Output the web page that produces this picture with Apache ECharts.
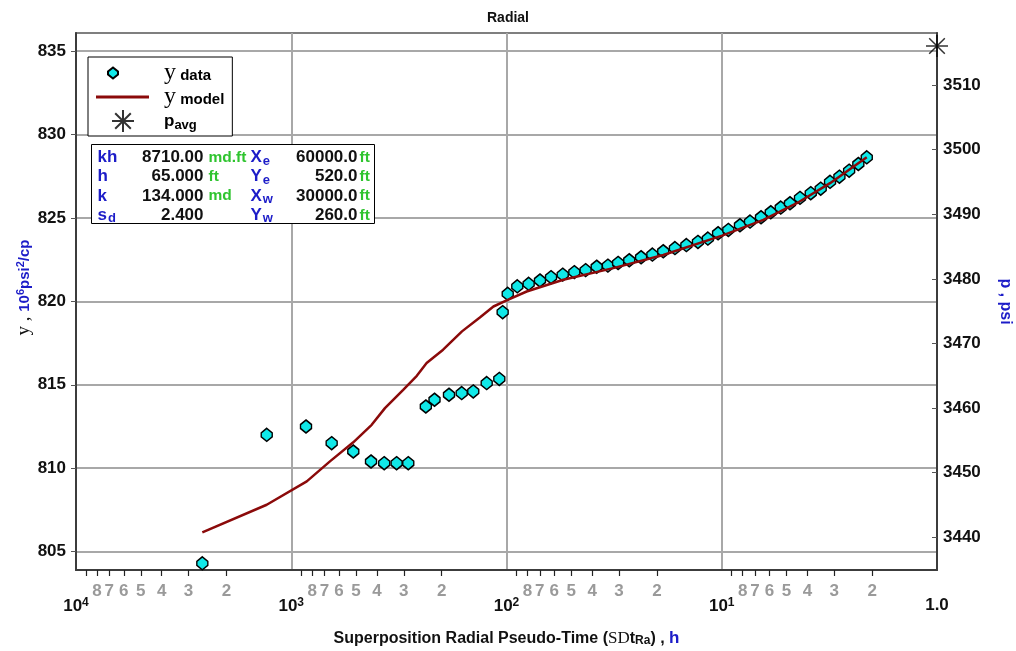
<!DOCTYPE html>
<html>
<head>
<meta charset="utf-8">
<title>Radial</title>
<script src="https://cdn.jsdelivr.net/npm/echarts@6/dist/echarts.min.js"></script>
<style>
  html, body { margin: 0; padding: 0; background: #fff; }
  #chart { width: 1016px; height: 651px; }
</style>
</head>
<body>
<div id="chart"></div>
<script>
// measured data: superposition radial pseudo-time (h) vs y (10^6 psi^2/cp)
const dataTime = [2589, 1300, 854, 649, 515, 426, 370, 324, 286, 237, 216, 185, 161.5, 142.7, 123.6, 108,
  104.2, 98.7, 89.1, 78.9, 69.9, 62.1, 54.8, 48.4, 42.9, 38.1, 33.8, 30.3, 26.9, 23.7, 21.0, 18.7, 16.5,
  14.6, 12.9, 11.6, 10.4, 9.32, 8.23, 7.39, 6.57, 5.92, 5.32, 4.82, 4.33, 3.86, 3.47, 3.14, 2.84, 2.56, 2.32, 2.12]
const dataY = [804.3, 812.0, 812.5, 811.5, 811.0, 810.4, 810.3, 810.3, 810.3, 813.7, 814.1, 814.4, 814.5, 814.6, 815.1, 815.35,
  819.35, 820.45, 820.9, 821.05, 821.25, 821.45, 821.6, 821.75, 821.87, 822.07, 822.14, 822.3, 822.46, 822.64, 822.8, 823.0, 823.19,
  823.37, 823.56, 823.76, 824.08, 824.28, 824.56, 824.78, 825.04, 825.34, 825.62, 825.88, 826.2, 826.48, 826.75, 827.16, 827.47, 827.83, 828.23, 828.63]

// model curve
const modelTime = [2589, 1300, 847, 661, 515, 423, 367, 302, 261, 235, 197, 161, 133, 115, 98.7, 80.6, 54.5, 31.9, 18.7, 9.97, 6.41, 4.48, 3.14, 2.12]
const modelY = [806.16, 807.81, 809.21, 810.41, 811.55, 812.6, 813.6, 814.7, 815.54, 816.3, 817.1, 818.2, 819.03, 819.69, 820.09, 820.59, 821.29, 821.99, 822.78, 823.94, 824.88, 825.88, 827.08, 828.63]

// average pressure marker
const pavgTime = [1.0]
const pavgY = [835.3]

// axis ticks
const minorTickValues = [9000, 8000, 7000, 6000, 5000, 4000, 3000, 2000, 900, 800, 700, 600, 500, 400, 300, 200,
  90, 80, 70, 60, 50, 40, 30, 20, 9, 8, 7, 6, 5, 4, 3, 2]
const minorLabelValues = [8000, 7000, 6000, 5000, 4000, 3000, 2000, 800, 700, 600, 500, 400, 300, 200,
  80, 70, 60, 50, 40, 30, 20, 8, 7, 6, 5, 4, 3, 2]
const leftTicks = [805, 810, 815, 820, 825, 830, 835]
const rightTicks = [3440, 3450, 3460, 3470, 3480, 3490, 3500, 3510]

// parameter box rows: label, sub, value, unit, label, sub, value, unit
const paramRows = [
  ['kh', '', '8710.00', 'md.ft', 'X', 'e', '60000.0', 'ft'],
  ['h', '', '65.000', 'ft', 'Y', 'e', '520.0', 'ft'],
  ['k', '', '134.000', 'md', 'X', 'w', '30000.0', 'ft'],
  ['s', 'd', '2.400', '', 'Y', 'w', '260.0', 'ft']
]

const SANS = 'Liberation Sans, Arial, sans-serif'
const SERIF = 'Liberation Serif, Times New Roman, serif'
const BLUE = '#1c1cc8'
const GREEN = '#2fc42f'
const GRID_GRAY = '#a8a8a8'
const AXIS_DARK = '#3c3c3c'

// legend icons sit in a 53x22 box, moveTo corners pin the box size
const DIAMOND_ICON = 'path://M0,0M53,22M17,5.5L22,9.5L22,12.5L17,16.5L12,12.5L12,9.5Z'
const LINE_ICON = 'path://M0,0L53,0L53,3L0,3Z'
const STAR_ICON = 'path://M0,0M53,22M27,0L27,22M16,11L38,11M19.2,3.2L34.8,18.8M34.8,3.2L19.2,18.8'

const chart = echarts.init(document.getElementById('chart'))

const legendText = {
  'y data': '{y|y}{s| data}',
  'y model': '{y|y}{s| model}',
  'p avg': '{p|p}{ps|avg}'
}

function paramGraphics() {
  const z = 100
  const children = [{
    type: 'rect',
    z: z,
    shape: { x: 0, y: 0, width: 283, height: 79 },
    style: { fill: '#fff', stroke: '#000', lineWidth: 1 }
  }]
  const rich = {
    l: { fontFamily: SANS, fontWeight: 'bold', fontSize: 17, fill: BLUE },
    sub: { fontFamily: SANS, fontWeight: 'bold', fontSize: 13, fill: BLUE, verticalAlign: 'bottom', padding: [7, 0, 0, 1] }
  }
  const font = 'bold 17px ' + SANS
  const unitFont = 'bold 15.5px ' + SANS
  paramRows.forEach((row, i) => {
    const y = 13 + i * 19.3
    const label = (name, sub) => sub ? '{l|' + name + '}{sub|' + sub + '}' : '{l|' + name + '}'
    children.push(
      { type: 'text', z: z + 1, x: 6, y: y, style: { text: label(row[0], row[1]), rich: rich, verticalAlign: 'middle' } },
      { type: 'text', z: z + 1, x: 112, y: y, style: { text: row[2], font: font, fill: '#111', align: 'right', verticalAlign: 'middle' } },
      { type: 'text', z: z + 1, x: 117, y: y, style: { text: row[3], font: unitFont, fill: GREEN, verticalAlign: 'middle' } },
      { type: 'text', z: z + 1, x: 159, y: y, style: { text: label(row[4], row[5]), rich: rich, verticalAlign: 'middle' } },
      { type: 'text', z: z + 1, x: 266, y: y, style: { text: row[6], font: font, fill: '#111', align: 'right', verticalAlign: 'middle' } },
      { type: 'text', z: z + 1, x: 268, y: y, style: { text: row[7], font: unitFont, fill: GREEN, verticalAlign: 'middle' } }
    )
  })
  return [{ type: 'group', left: 91, top: 144, z: z, children: children }]
}

const option = {
  animation: false,
  backgroundColor: '#fff',
  title: {
    text: 'Radial',
    left: 'center',
    top: 6,
    textStyle: { fontFamily: SANS, fontWeight: 'bold', fontSize: 14, color: '#111' }
  },
  grid: {
    left: 76,
    right: 79,
    top: 33,
    bottom: 81,
    show: true,
    borderColor: '#555',
    borderWidth: 1.5,
    outerBoundsMode: 'none'
  },
  legend: {
    orient: 'vertical',
    left: 88,
    top: 57,
    padding: [4, 8, 3, 7],
    itemGap: 0,
    itemWidth: 53,
    itemHeight: 22,
    backgroundColor: '#fff',
    borderColor: '#000',
    borderWidth: 1,
    borderRadius: 0,
    selectedMode: false,
    data: [
      { name: 'y data', icon: DIAMOND_ICON },
      { name: 'y model', icon: LINE_ICON },
      { name: 'p avg', icon: STAR_ICON }
    ],
    formatter: (name) => legendText[name],
    textStyle: {
      rich: {
        y: { fontFamily: SERIF, fontSize: 24, color: '#000', padding: [0, 0, 0, 10], lineHeight: 21 },
        s: { fontFamily: SANS, fontWeight: 'bold', fontSize: 15, color: '#000', verticalAlign: 'bottom', lineHeight: 15 },
        p: { fontFamily: SANS, fontWeight: 'bold', fontSize: 17, color: '#000', padding: [0, 0, 0, 10], lineHeight: 21 },
        ps: { fontFamily: SANS, fontWeight: 'bold', fontSize: 13, color: '#000', verticalAlign: 'bottom', lineHeight: 12 }
      }
    }
  },
  xAxis: [
    {
      type: 'log',
      logBase: 10,
      min: 1,
      max: 10000,
      inverse: true,
      position: 'bottom',
      axisLine: { onZero: false, lineStyle: { color: AXIS_DARK, width: 2 } },
      axisTick: { show: false },
      minorTick: { show: false },
      splitLine: { show: true, lineStyle: { color: GRID_GRAY, width: 2 } },
      axisLabel: {
        margin: 27,
        formatter: (v) => {
          const e = Math.round(Math.log10(v))
          return e === 0 ? '{b|1.0}' : '{b|10}{sup|' + e + '}'
        },
        rich: {
          b: { fontFamily: SANS, fontWeight: 'bold', fontSize: 17, color: '#111' },
          sup: { fontFamily: SANS, fontWeight: 'bold', fontSize: 12, color: '#111', verticalAlign: 'top', padding: [0, 0, 7, 0] }
        }
      },
      name: '{t|Superposition Radial Pseudo-Time (}{sd|SD}{t|t}{sub|Ra}{t|) , }{h|h}',
      nameLocation: 'middle',
      nameGap: 60,
      nameTextStyle: {
        rich: {
          t: { fontFamily: SANS, fontWeight: 'bold', fontSize: 16, color: '#111' },
          sd: { fontFamily: SERIF, fontSize: 17, color: '#111' },
          sub: { fontFamily: SANS, fontWeight: 'bold', fontSize: 12, color: '#111', verticalAlign: 'bottom', padding: [5, 0, 0, 0] },
          h: { fontFamily: SANS, fontWeight: 'bold', fontSize: 17, color: BLUE }
        }
      }
    },
    {
      // minor decade ticks and their labels, on log10 of time
      type: 'value',
      min: 0,
      max: 4,
      inverse: true,
      position: 'bottom',
      axisLine: { show: false, onZero: false },
      splitLine: { show: false },
      axisTick: {
        show: true,
        customValues: minorTickValues.map(Math.log10),
        length: 6,
        lineStyle: { color: '#222', width: 1.2 }
      },
      axisLabel: {
        customValues: minorLabelValues.map(Math.log10),
        margin: 13,
        formatter: (v) => String(Math.round(Math.pow(10, v - Math.floor(v + 1e-9)))),
        fontFamily: SANS,
        fontWeight: 'bold',
        fontSize: 17,
        color: '#9a9a9a'
      }
    }
  ],
  yAxis: [
    {
      type: 'value',
      position: 'left',
      min: 803.9,
      max: 836.08,
      axisLine: { show: true, onZero: false, lineStyle: { color: AXIS_DARK, width: 2 } },
      axisTick: { show: true, customValues: leftTicks, length: 5, lineStyle: { color: '#555' } },
      axisLabel: {
        customValues: leftTicks,
        margin: 10,
        formatter: (v) => String(v),
        fontFamily: SANS,
        fontWeight: 'bold',
        fontSize: 17,
        color: '#111'
      },
      splitLine: { show: true, lineStyle: { color: GRID_GRAY, width: 2 } },
      name: '{y|y , }{b|10}{sup|6}{b|psi}{sup|2}{b|/cp}',
      nameLocation: 'middle',
      nameRotate: 90,
      nameGap: 42,
      nameMoveOverlap: false,
      nameTextStyle: {
        padding: [0, 0, 0, 28],
        rich: {
          y: { fontFamily: SERIF, fontSize: 19, color: '#111' },
          b: { fontFamily: SANS, fontWeight: 'bold', fontSize: 15, color: BLUE },
          sup: { fontFamily: SANS, fontWeight: 'bold', fontSize: 11, color: BLUE, verticalAlign: 'top', padding: [0, 0, 6, 0] }
        }
      }
    },
    {
      type: 'value',
      position: 'right',
      min: 3434.94,
      max: 3518.05,
      axisLine: { show: true, onZero: false, lineStyle: { color: AXIS_DARK, width: 2 } },
      axisTick: { show: true, inside: true, customValues: rightTicks, length: 5, lineStyle: { color: '#555' } },
      axisLabel: {
        customValues: rightTicks,
        margin: 6,
        formatter: (v) => String(v),
        fontFamily: SANS,
        fontWeight: 'bold',
        fontSize: 17,
        color: '#111'
      },
      splitLine: { show: false },
      name: '{b|p , psi}',
      nameLocation: 'middle',
      nameRotate: -90,
      nameGap: 60,
      nameTextStyle: {
        rich: {
          b: { fontFamily: SANS, fontWeight: 'bold', fontSize: 16, color: BLUE }
        }
      }
    }
  ],
  graphic: paramGraphics(),
  series: [
    {
      name: 'y data',
      type: 'scatter',
      xAxisIndex: 0,
      yAxisIndex: 0,
      symbol: 'path://M5,0L10,4.5L10,8.5L5,13L0,8.5L0,4.5Z',
      symbolSize: [11, 13],
      itemStyle: { color: '#10e8e8', borderColor: '#000', borderWidth: 1.5, opacity: 1 },
      data: dataTime.map((t, i) => [t, dataY[i]]),
      z: 3
    },
    {
      name: 'y model',
      type: 'line',
      xAxisIndex: 0,
      yAxisIndex: 0,
      symbol: 'none',
      lineStyle: { color: '#8b0a0a', width: 2.5 },
      itemStyle: { color: '#8b0a0a' },
      data: modelTime.map((t, i) => [t, modelY[i]]),
      z: 4
    },
    {
      name: 'p avg',
      type: 'scatter',
      xAxisIndex: 0,
      yAxisIndex: 0,
      symbol: 'path://M10,0L10,20M0,10L20,10M2.9,2.9L17.1,17.1M17.1,2.9L2.9,17.1',
      symbolSize: 22,
      itemStyle: { color: 'rgba(0,0,0,0)', borderColor: '#000', borderWidth: 1.5 },
      data: pavgTime.map((t, i) => [t, pavgY[i]]),
      clip: false,
      z: 5
    }
  ]
}

chart.setOption(option)
window.addEventListener('resize', () => chart.resize())
</script>
</body>
</html>
